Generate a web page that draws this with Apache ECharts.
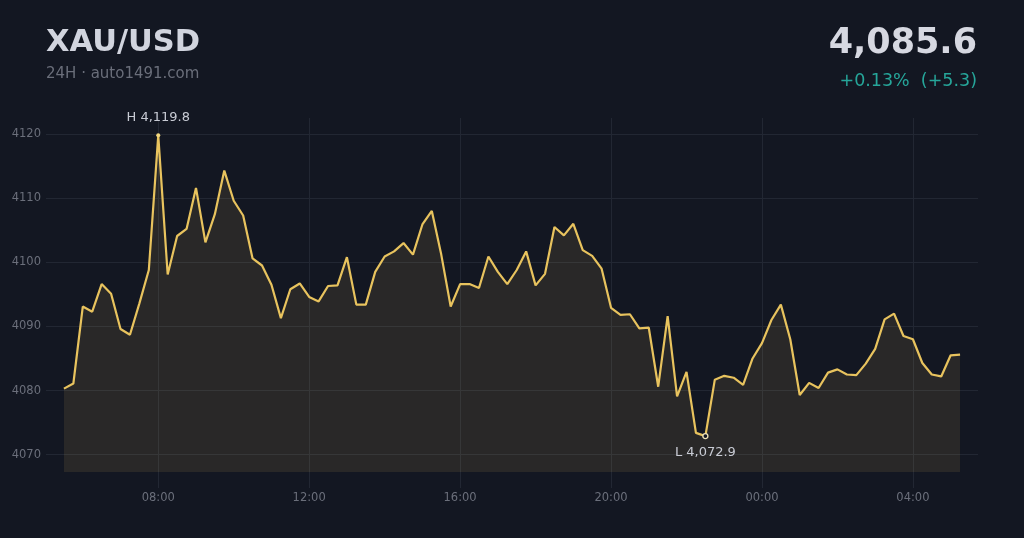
<!DOCTYPE html>
<html>
<head>
<meta charset="utf-8">
<title>XAU/USD</title>
<script src="https://cdn.jsdelivr.net/npm/echarts@6/dist/echarts.min.js"></script>
<style>
  html, body { margin: 0; padding: 0; background: #131722; }
  #chart { width: 1024px; height: 538px; }
</style>
</head>
<body>
<div id="chart"></div>
<script>
// 15-minute closes, 05:30 -> 05:15 next day
var startTime = '2025-01-01T05:30:00Z';
var stepMinutes = 15;
var prices = [
  4080.3, 4081.1, 4093.1, 4092.3, 4096.6, 4095.1, 4089.6, 4088.7, 4093.6, 4098.8,
  4119.8, 4098.1, 4104.1, 4105.2, 4111.6, 4103.1, 4107.5, 4114.3, 4109.6, 4107.3,
  4100.6, 4099.5, 4096.5, 4091.3, 4095.8, 4096.7, 4094.6, 4093.9, 4096.3, 4096.4,
  4100.8, 4093.4, 4093.4, 4098.5, 4100.9, 4101.7, 4103.0, 4101.2, 4105.9, 4108.0,
  4101.2, 4093.1, 4096.6, 4096.6, 4096.0, 4100.9, 4098.5, 4096.6, 4098.8, 4101.7,
  4096.4, 4098.2, 4105.5, 4104.2, 4106.0, 4101.9, 4101.0, 4099.0, 4092.9, 4091.8,
  4091.9, 4089.7, 4089.8, 4080.6, 4091.6, 4079.1, 4082.9, 4073.4, 4072.9, 4081.7,
  4082.3, 4082.0, 4080.9, 4085.0, 4087.4, 4091.0, 4093.4, 4088.0, 4079.3, 4081.2,
  4080.4, 4082.8, 4083.3, 4082.5, 4082.4, 4084.2, 4086.5, 4091.1, 4092.0, 4088.5,
  4088.0, 4084.3, 4082.5, 4082.2, 4085.5, 4085.6
];
var symbolName = 'XAU/USD';
var subLine = '24H · auto1491.com';
var lastPrice = '4,085.6';
var changeText = '+0.13%  (+5.3)';

var t0 = Date.parse(startTime);
var step = stepMinutes * 60 * 1000;
var seriesData = prices.map(function (p, i) { return [t0 + i * step, p]; });
var pad = 28.5 * 60 * 1000;

var gridColor = '#222733';
var labelColor = '#6b6f7b';

function pad2(n) { return (n < 10 ? '0' : '') + n; }
function fmtPrice(v) {
  return v.toLocaleString('en-US', { minimumFractionDigits: 1, maximumFractionDigits: 1 });
}

var myChart = echarts.init(document.getElementById('chart'));
var option = {
  backgroundColor: '#131722',
  animation: false,
  useUTC: true,
  textStyle: { fontFamily: 'DejaVu Sans' },
  graphic: [
    { type: 'text', left: 46, top: 28, style: { text: symbolName, fill: '#d1d4de', font: 'bold 30.5px "DejaVu Sans"' } },
    { type: 'text', left: 46, top: 67, style: { text: subLine, fill: '#6a6e7a', font: '15px "DejaVu Sans"' } },
    { type: 'text', right: 47, top: 26, style: { text: lastPrice, fill: '#d6d8e1', font: 'bold 35px "DejaVu Sans"' } },
    { type: 'text', right: 47, top: 72, style: { text: changeText, fill: '#26a69a', font: '17.5px "DejaVu Sans"' } }
  ],
  grid: { left: 46, right: 46, top: 118, bottom: 66 },
  xAxis: {
    type: 'time',
    min: t0 - pad,
    max: t0 + (prices.length - 1) * step + pad,
    minInterval: 4 * 3600 * 1000,
    maxInterval: 4 * 3600 * 1000,
    axisLine: { show: false },
    axisTick: { show: true, length: 16, lineStyle: { color: gridColor } },
    splitLine: { show: true, showMinLine: false, showMaxLine: false, lineStyle: { color: gridColor } },
    axisLabel: {
      color: labelColor, fontSize: 11.5, margin: 20,
      showMinLabel: false, showMaxLabel: false,
      formatter: function (v) {
        var d = new Date(v);
        return pad2(d.getUTCHours()) + ':' + pad2(d.getUTCMinutes());
      }
    }
  },
  yAxis: {
    type: 'value',
    min: 4067.3,
    max: 4122.5,
    axisLine: { show: false },
    axisTick: { show: false },
    splitLine: { show: true, showMinLine: false, showMaxLine: false, lineStyle: { color: gridColor } },
    axisLabel: {
      color: labelColor, fontSize: 11.5, margin: 5, showMinLabel: false, showMaxLabel: false,
      formatter: function (v) { return String(v); }
    }
  },
  series: [{
    type: 'line',
    data: seriesData,
    symbol: 'none',
    lineStyle: { color: '#e8c35e', width: 2.2 },
    areaStyle: { color: 'rgba(245,205,100,0.14)' },
    markPoint: {
      symbol: 'circle',
      label: { show: true, color: '#c8cbd4', fontSize: 13 },
      data: [
        {
          type: 'max', symbolSize: 4,
          itemStyle: { color: '#f3d77e' },
          label: { position: 'top', distance: 9, formatter: function (p) { return 'H ' + fmtPrice(p.value); } }
        },
        {
          type: 'min', symbolSize: 5,
          itemStyle: { color: '#131722', borderColor: '#efe2b8', borderWidth: 1.3 },
          label: { position: 'bottom', distance: 7, formatter: function (p) { return 'L ' + fmtPrice(p.value); } }
        }
      ]
    }
  }]
};
myChart.setOption(option);
</script>
</body>
</html>
